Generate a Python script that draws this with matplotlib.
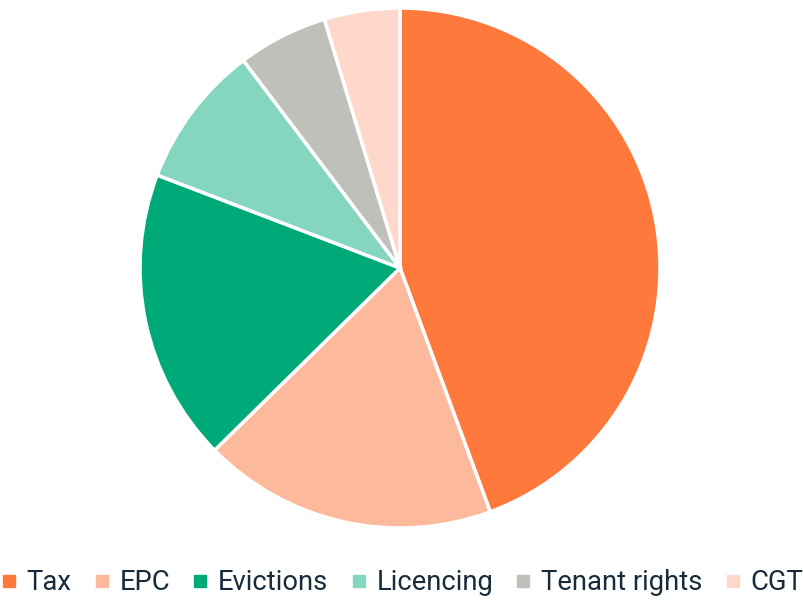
import matplotlib.pyplot as plt
from matplotlib.lines import Line2D

plt.rcParams['font.family'] = ['Roboto', 'DejaVu Sans']

labels = ["Tax", "EPC", "Evictions", "Licencing", "Tenant rights", "CGT"]
values = [44.4, 18.3, 18.2, 8.9, 5.6, 4.7]
colors = ["#FF793D", "#FDB99B", "#00AA78", "#85D6BF", "#BFC0BA", "#FFD8CB"]
text_color = "#172B3A"

fig = plt.figure(figsize=(8.04, 6.01), dpi=100)
ax = fig.add_axes([140 / 804, 73 / 601, 520 / 804, 520 / 601])
ax.pie(values, colors=colors, startangle=90, counterclock=False,
       wedgeprops=dict(edgecolor="white", linewidth=2.5))
ax.set_xlim(-1.0, 1.0)
ax.set_ylim(-1.0, 1.0)
ax.set_aspect('equal')
ax.axis('off')

# legend along the bottom
handles = [Line2D([], [], marker='s', linestyle='none', markersize=8,
                  markerfacecolor=c, markeredgecolor=c) for c in colors]
fig.legend(handles, labels, loc='center', bbox_to_anchor=(0.5, 18 / 601),
           ncol=6, frameon=False, fontsize=19.7, handlelength=0.6,
           handletextpad=0.35, columnspacing=0.8, labelcolor=text_color)

fig.savefig("out.png", dpi=100)
